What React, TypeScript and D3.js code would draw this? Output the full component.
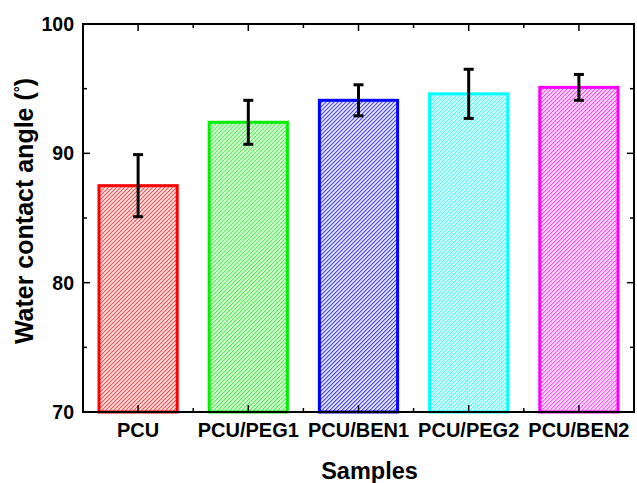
import React, { useEffect, useRef } from 'react';
import * as d3 from 'd3';

const samples = ['PCU', 'PCU/PEG1', 'PCU/BEN1', 'PCU/PEG2', 'PCU/BEN2'];
const angles = [87.5, 92.4, 94.1, 94.6, 95.1];
const errLow = [85.1, 90.7, 92.9, 92.7, 94.1];
const errHigh = [89.9, 94.1, 95.3, 96.5, 96.1];
const colors = ['#ff0000', '#00ee00', '#0000ff', '#00ffff', '#ff00ff'];
const yTicks = [70, 80, 90, 100];
const yMinor = [75, 85, 95];

const W = 637;
const H = 483;

const App: React.FC = () => {
  const svgRef = useRef<SVGSVGElement>(null);

  useEffect(() => {
    if (!svgRef.current) return;
    const svg = d3.select(svgRef.current);
    svg.selectAll('*').remove();

    const margin = { top: 24, right: 3, bottom: 71, left: 83 };
    const width = W - margin.left - margin.right;
    const height = H - margin.top - margin.bottom;
    const font = '"Liberation Sans", Arial, sans-serif';

    const x = d3.scaleBand<string>().domain(samples).range([0, width]).paddingInner(0.29).paddingOuter(0.145);
    const y = d3.scaleLinear().domain([70, 100]).range([height, 0]);

    // diagonal hatch, one per colour
    const defs = svg.append('defs');
    const pitch = 2.83;
    colors.forEach((c, i) => {
      const p = defs.append('pattern')
        .attr('id', `hatch-${i}`)
        .attr('patternUnits', 'userSpaceOnUse')
        .attr('width', pitch)
        .attr('height', pitch)
        .attr('patternTransform', 'rotate(45)');
      p.append('line')
        .attr('x1', 0.7).attr('y1', 0).attr('x2', 0.7).attr('y2', pitch)
        .attr('stroke', c)
        .attr('stroke-width', 0.9);
    });

    const g = svg.append('g').attr('transform', `translate(${margin.left},${margin.top})`);

    // bars
    samples.forEach((s, i) => {
      const bx = x(s)!;
      const by = y(angles[i]);
      g.append('rect')
        .attr('x', bx).attr('y', by)
        .attr('width', x.bandwidth())
        .attr('height', height - by)
        .attr('fill', `url(#hatch-${i})`)
        .attr('stroke', colors[i])
        .attr('stroke-width', 3);
    });

    // error bars
    samples.forEach((s, i) => {
      const cx = x(s)! + x.bandwidth() / 2;
      g.append('line')
        .attr('x1', cx).attr('x2', cx)
        .attr('y1', y(errLow[i])).attr('y2', y(errHigh[i]))
        .attr('stroke', '#000').attr('stroke-width', 3);
      [errLow[i], errHigh[i]].forEach(v => {
        g.append('line')
          .attr('x1', cx - 5).attr('x2', cx + 5)
          .attr('y1', y(v)).attr('y2', y(v))
          .attr('stroke', '#000').attr('stroke-width', 3);
      });
    });

    // frame
    g.append('rect')
      .attr('x', 0).attr('y', 0)
      .attr('width', width).attr('height', height)
      .attr('fill', 'none')
      .attr('stroke', '#000')
      .attr('stroke-width', 2);

    // y ticks, inward on both sides
    const yAll = [...yTicks.map(v => ({ v, len: 7 })), ...yMinor.map(v => ({ v, len: 4 }))];
    yAll.forEach(({ v, len }) => {
      g.append('line').attr('x1', 0).attr('x2', len).attr('y1', y(v)).attr('y2', y(v))
        .attr('stroke', '#000').attr('stroke-width', 1.5);
      g.append('line').attr('x1', width).attr('x2', width - len).attr('y1', y(v)).attr('y2', y(v))
        .attr('stroke', '#000').attr('stroke-width', 1.5);
    });
    yTicks.forEach(v => {
      g.append('text')
        .attr('x', -9).attr('y', y(v))
        .attr('dy', '0.36em')
        .attr('text-anchor', 'end')
        .attr('font-family', font).attr('font-weight', 'bold').attr('font-size', 19.5)
        .text(v);
    });

    // x ticks: major at centres, minor between
    const step = x.step();
    samples.forEach((s, i) => {
      const cx = x(s)! + x.bandwidth() / 2;
      g.append('line').attr('x1', cx).attr('x2', cx).attr('y1', height).attr('y2', height - 7)
        .attr('stroke', '#000').attr('stroke-width', 1.5);
      g.append('line').attr('x1', cx).attr('x2', cx).attr('y1', 0).attr('y2', 7)
        .attr('stroke', '#000').attr('stroke-width', 1.5);
      if (i < samples.length - 1) {
        const mx = cx + step / 2;
        g.append('line').attr('x1', mx).attr('x2', mx).attr('y1', height).attr('y2', height - 4)
          .attr('stroke', '#000').attr('stroke-width', 1.5);
        g.append('line').attr('x1', mx).attr('x2', mx).attr('y1', 0).attr('y2', 4)
          .attr('stroke', '#000').attr('stroke-width', 1.5);
      }
      g.append('text')
        .attr('x', cx).attr('y', height + 25)
        .attr('text-anchor', 'middle')
        .attr('font-family', font).attr('font-weight', 'bold').attr('font-size', 20)
        .text(s);
    });

    // axis titles
    g.append('text')
      .attr('x', width / 2 + 11).attr('y', height + 67)
      .attr('text-anchor', 'middle')
      .attr('font-family', font).attr('font-weight', 'bold').attr('font-size', 23.5)
      .text('Samples');

    const yt = g.append('text')
      .attr('transform', `translate(${-50},${height / 2 - 7}) rotate(-90)`)
      .attr('text-anchor', 'middle')
      .attr('font-family', font).attr('font-weight', 'bold').attr('font-size', 25);
    yt.append('tspan').text('Water contact angle (');
    yt.append('tspan').attr('dy', -8).attr('font-size', 15).text('°');
    yt.append('tspan').attr('dy', 8).text(')');
  }, []);

  return (
    <svg
      ref={svgRef}
      width={W}
      height={H}
      style={{ position: 'absolute', left: 0, top: 0, background: '#fff' }}
    />
  );
};

export default App;
